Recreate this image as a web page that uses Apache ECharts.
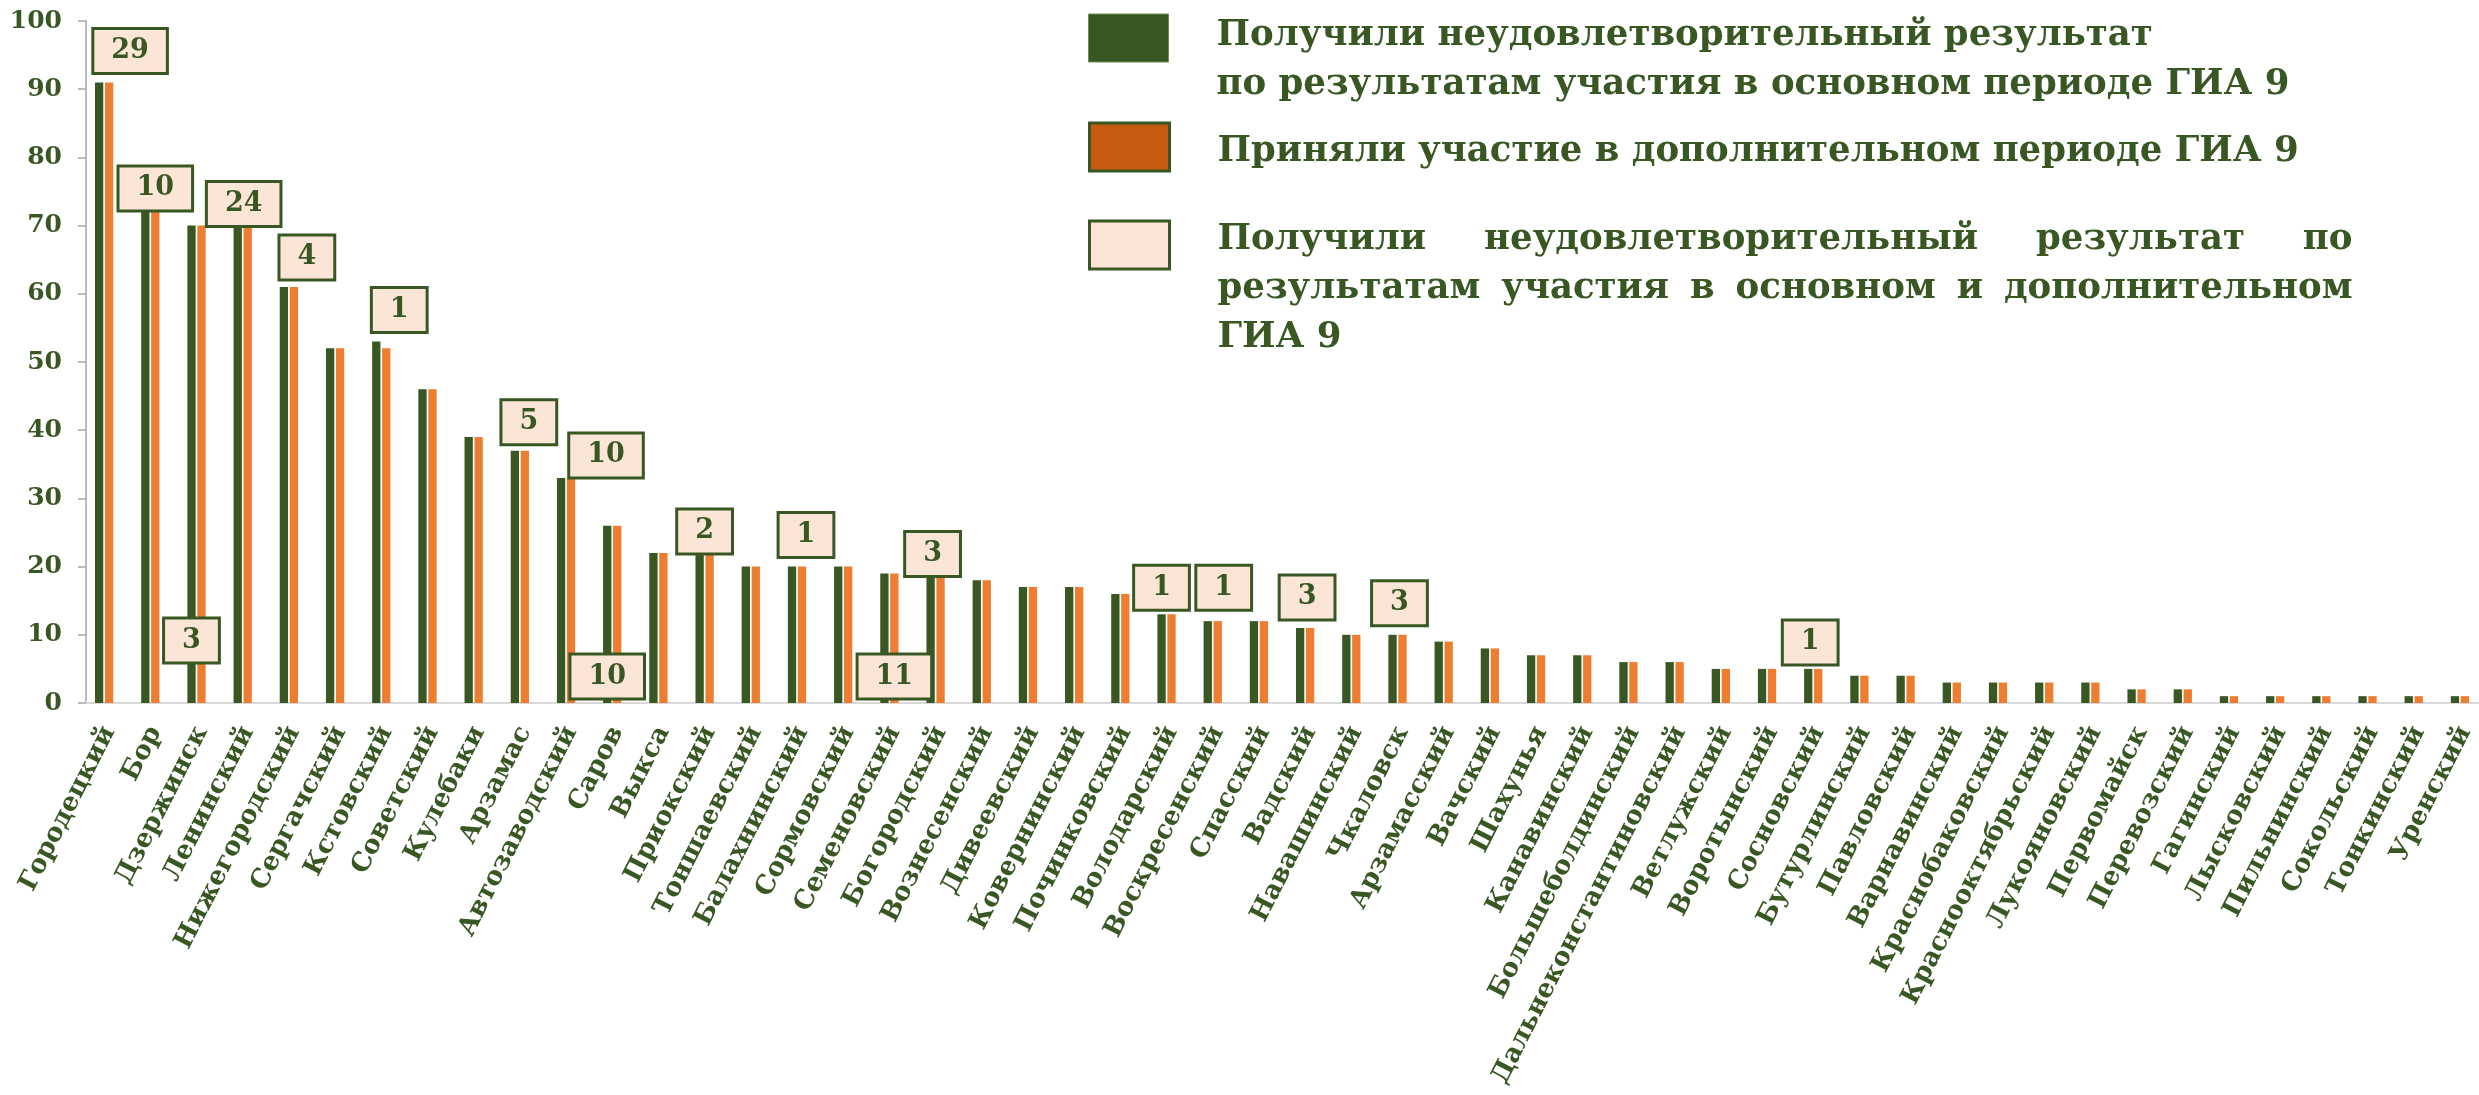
<!DOCTYPE html>
<html>
<head>
<meta charset="utf-8">
<script src="https://cdn.jsdelivr.net/npm/echarts@6/dist/echarts.min.js"></script>
<style>
  html, body { margin: 0; padding: 0; background: #ffffff; }
  #chart { width: 2479px; height: 1095px; }
</style>
</head>
<body>
<div id="chart"></div>
<script>
// ---------------- DATA ----------------
const categories = [
  'Городецкий','Бор','Дзержинск','Ленинский','Нижегородский','Сергачский','Кстовский','Советский',
  'Кулебаки','Арзамас','Автозаводский','Саров','Выкса','Приокский','Тоншаевский','Балахнинский',
  'Сормовский','Семеновский','Богородский','Вознесенский','Дивеевский','Ковернинский','Починковский',
  'Володарский','Воскресенский','Спасский','Вадский','Навашинский','Чкаловск','Арзамасский','Вачский',
  'Шахунья','Канавинский','Большеболдинский','Дальнеконстантиновский','Ветлужский','Воротынский',
  'Сосновский','Бутурлинский','Павловский','Варнавинский','Краснобаковский','Краснооктябрьский',
  'Лукояновский','Первомайск','Перевозский','Гагинский','Лысковский','Пильнинский','Сокольский',
  'Тонкинский','Уренский'
];
const failedMain = [91,72,70,70,61,52,53,46,39,37,33,26,22,22,20,20,20,19,19,18,17,17,16,13,12,12,11,10,10,9,8,7,7,6,6,5,5,5,4,4,3,3,3,3,2,2,1,1,1,1,1,1];
const tookExtra  = [91,72,70,70,61,52,52,46,39,37,33,26,22,22,20,20,20,19,19,18,17,17,16,13,12,12,11,10,10,9,8,7,7,6,6,5,5,5,4,4,3,3,3,3,2,2,1,1,1,1,1,1];
const failedBoth = [29,10,3,24,4,null,1,null,null,5,10,10,null,2,null,1,null,11,3,null,null,null,null,1,1,null,3,null,3,
  null,null,null,null,null,null,null,null,1,null,null,null,null,null,null,null,null,null,null,null,null,null,null];
const yTicks = { min: 0, max: 100, interval: 10 };

const seriesNames = [
  'Получили неудовлетворительный результат по результатам участия в основном периоде ГИА 9',
  'Приняли участие в дополнительном периоде ГИА 9',
  'Получили неудовлетворительный результат по результатам участия в основном и дополнительном ГИА 9'
];

// ---------------- STYLE / LAYOUT ----------------
const GREEN = '#385723', ORANGE = '#ED7D31', DARK_ORANGE = '#C55A11', PEACH = '#FBE5D6';
const FONT = 'DejaVu Serif';
const LEG_SIZE = 35.5, LEG_LH = 49, ICON_H = 48;
// label box nudges [dx, gap above bar top] (pixels), manual placement as in source
const labelNudge = {
  'Городецкий':[21,10], 'Бор':[0,2], 'Ленинский':[-4,0], 'Нижегородский':[13,8], 'Кстовский':[13,10],
  'Арзамас':[4,7], 'Автозаводский':[35,1], 'Приокский':[-5,0], 'Балахнинский':[4,10], 'Богородский':[-8,-2],
  'Володарский':[-10,5], 'Воскресенский':[6,12], 'Вадский':[-3,9], 'Чкаловск':[-3,10], 'Сосновский':[-8,5]
};
// labels that sit near the base line instead: [dx, gap above axis]
const labelAtBase = { 'Дзержинск':[-10,41], 'Саров':[-10,5], 'Семеновский':[0,5] };

// measuring helper for justified legend text
const cv = document.createElement('canvas').getContext('2d');
cv.font = 'bold ' + LEG_SIZE + 'px "' + FONT + '"';
const legendRich = { t: { fontSize: LEG_SIZE, fontFamily: FONT, fontWeight: 'bold', color: GREEN, lineHeight: LEG_LH } };
function justifyLine(words, width, gapKey) {
  const total = words.reduce((s, w) => s + cv.measureText(w).width, 0);
  const g = Math.max(4, (width - total) / (words.length - 1));
  legendRich[gapKey] = { width: g, fontSize: LEG_SIZE, fontFamily: FONT, fontWeight: 'bold', lineHeight: LEG_LH };
  return words.map(w => '{t|' + w + '}').join('{' + gapKey + '|\u00a0}');
}
const JW = 1135;
const legendText = {
  [seriesNames[0]]: '{t|Получили неудовлетворительный результат}\n{t|по результатам участия в основном периоде ГИА 9}',
  [seriesNames[1]]: '{t|Приняли участие в дополнительном периоде ГИА 9}',
  [seriesNames[2]]:
    justifyLine(['Получили','неудовлетворительный','результат','по'], JW, 'ga') + '\n' +
    justifyLine(['результатам','участия','в','основном','и','дополнительном'], JW, 'gb') + '\n' +
    '{t|ГИА 9}'
};

// place a one-item legend so that its icon top is at iconTop and its first text line
// is centred at firstLineY (text box is centred on the icon, top padding pushes content down)
function legendBox(iconTop, firstLineY, lines, name, itemStyle) {
  const contentH = lines * LEG_LH;
  const wantContentTop = firstLineY - LEG_LH / 2 - iconTop;
  const padTop = Math.max(0, 2 * (wantContentTop - ICON_H / 2 + contentH / 2));
  const boxTopRel = ICON_H / 2 - (contentH + padTop) / 2;
  return {
    orient: 'vertical', left: 1088, top: iconTop + Math.min(0, boxTopRel),
    itemWidth: 80, itemHeight: ICON_H, icon: 'rect',
    selectedMode: false, padding: 0,
    data: [{ name: name, itemStyle: itemStyle }],
    formatter: n => legendText[n],
    textStyle: {
      fontSize: LEG_SIZE, fontFamily: FONT, fontWeight: 'bold', color: GREEN, lineHeight: LEG_LH,
      padding: [padTop, 0, 0, 43], rich: legendRich
    }
  };
}

// label points: one per non-empty count
const labelPoints = [];
failedBoth.forEach((v, i) => {
  if (v == null) return;
  const name = categories[i];
  let y, nudge;
  if (labelAtBase[name]) { y = 0; nudge = labelAtBase[name]; }
  else { y = Math.max(failedMain[i], tookExtra[i]); nudge = labelNudge[name] || [0, 6]; }
  labelPoints.push({ value: [i, y, v], label: { offset: [nudge[0], -nudge[1]] } });
});

const chart = echarts.init(document.getElementById('chart'), null, { renderer: 'canvas' });
chart.setOption({
  backgroundColor: '#ffffff',
  animation: false,
  grid: { left: 86, top: 21, width: 2402, height: 682, containLabel: false, outerBoundsMode: 'none' },
  legend: [
    legendBox(14, 36, 2, seriesNames[0], { color: GREEN, borderColor: '#6E8A55', borderWidth: 1 }),
    legendBox(123, 152, 1, seriesNames[1], { color: DARK_ORANGE, borderColor: GREEN, borderWidth: 3 }),
    legendBox(221, 240, 3, seriesNames[2], { color: PEACH, borderColor: GREEN, borderWidth: 3 })
  ],
  xAxis: {
    type: 'category', data: categories,
    axisLine: { lineStyle: { color: '#D9D9D9', width: 2 } },
    axisTick: { show: false },
    axisLabel: {
      interval: 0, rotate: 63, margin: 25,
      fontSize: 26, fontWeight: 'bold', fontFamily: FONT, color: GREEN
    }
  },
  yAxis: {
    type: 'value', min: yTicks.min, max: yTicks.max, interval: yTicks.interval,
    splitLine: { show: false },
    axisLine: { show: true, lineStyle: { color: '#A6A6A6', width: 1.5 } },
    axisTick: { show: true, length: 8, lineStyle: { color: '#A6A6A6', width: 1.5 } },
    axisLabel: { margin: 24, fontSize: 25, fontWeight: 'bold', fontFamily: FONT, color: GREEN }
  },
  series: [
    { name: seriesNames[0], type: 'bar', data: failedMain, barWidth: 8.3, barGap: '20%',
      itemStyle: { color: GREEN }, silent: true },
    { name: seriesNames[1], type: 'bar', data: tookExtra, barWidth: 8.3, barGap: '20%',
      itemStyle: { color: ORANGE }, silent: true },
    { name: seriesNames[2], type: 'bar', data: failedBoth, barWidth: 8.3, barGap: '20%',
      itemStyle: { color: 'rgba(0,0,0,0)' }, silent: true },
    { name: 'labels', type: 'scatter', data: labelPoints, symbolSize: 1, z: 10, silent: true,
      itemStyle: { color: 'rgba(0,0,0,0)' },
      label: {
        show: true, position: 'top', distance: 0, opacity: 1,
        formatter: p => String(p.value[2]),
        fontSize: 27, fontWeight: 'bold', fontFamily: FONT, color: GREEN, lineHeight: 30,
        textBorderWidth: 0,
        backgroundColor: PEACH, borderColor: GREEN, borderWidth: 3, padding: [6, 17]
      }
    }
  ]
});
</script>
</body>
</html>
